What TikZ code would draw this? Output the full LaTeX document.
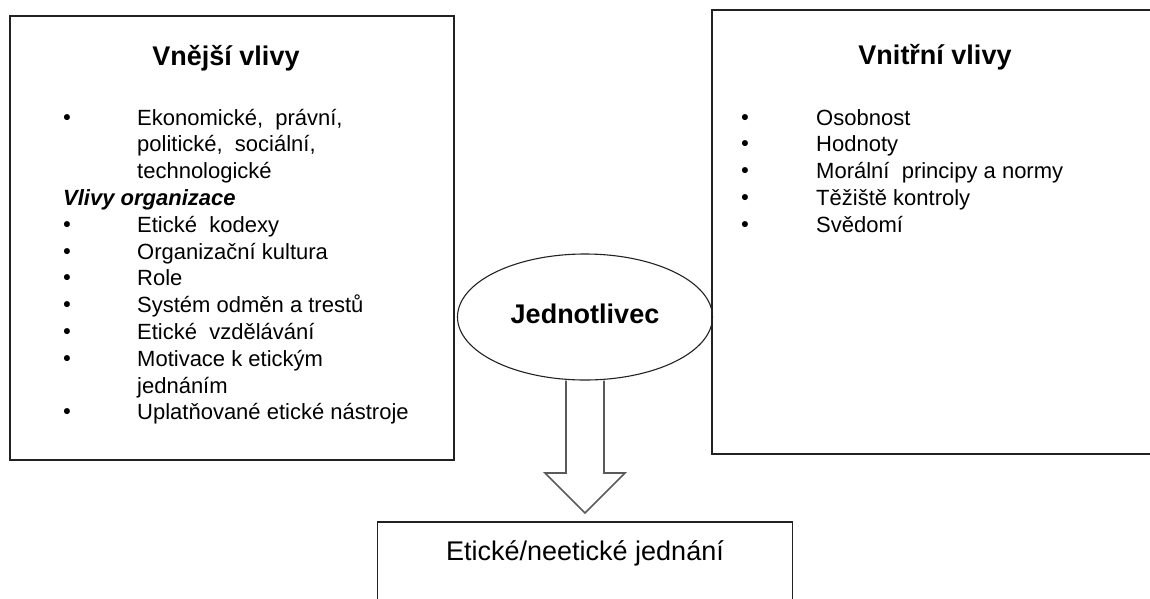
\documentclass[tikz,border=0pt]{standalone}
\usepackage{fontspec}
\setmainfont{Liberation Sans}
\usetikzlibrary{shapes.geometric, calc}
\definecolor{vlline}{HTML}{222222}
\definecolor{vlgray}{HTML}{5A5A5A}

\begin{document}
\begin{tikzpicture}[
  x=1pt, y=-1pt,
  every node/.style={font=\fontsize{22}{27}\selectfont, inner sep=0pt},
  frame/.style={rectangle, draw=vlline, line width=1.9pt},
  heading/.style={anchor=base, font=\fontsize{27}{32}\selectfont\bfseries},
  item/.style={anchor=base west},
  dot/.style={anchor=base, font=\fontsize{21}{24}\selectfont\bfseries},
  blockarr/.style={draw=vlgray, line width=1.6pt, line join=miter},
]

\useasboundingbox (0,0) rectangle (1150,598);
\clip (0,0) rectangle (1150,598);

% Boxes
\node[frame, minimum width=444pt, minimum height=444pt] (vnejsibox) at (232, 238) {};
\node[frame, minimum width=448pt, minimum height=444pt] (vnitrnibox) at (936, 232) {};

% Left box
\node[heading] (vnejsi) at (226, 65) {Vnější vlivy};
\node[item] (e1) at (137, 125) {Ekonomické,~ právní,};
\node[item] (e1b) at (137, 151.8) {politické,~ sociální,};
\node[item] (e1c) at (137, 178.6) {technologické};
\node[item, font=\fontsize{22}{27}\selectfont\bfseries\itshape] (org) at (63, 205.4) {Vlivy organizace};
\node[item] (e2) at (137, 232.2) {Etické~ kodexy};
\node[item] (e3) at (137, 259) {Organizační kultura};
\node[item] (e4) at (137, 285.8) {Role};
\node[item] (e5) at (137, 312.6) {Systém odměn a trestů};
\node[item] (e6) at (137, 339.4) {Etické~ vzdělávání};
\node[item] (e7) at (137, 366.2) {Motivace k etickým};
\node[item] (e7b) at (137, 393) {jednáním};
\node[item] (e8) at (137, 419.8) {Uplatňované etické nástroje};
\foreach \k in {0,4,5,6,7,8,9,11}
  \node[dot] (lb\k) at (67, {124+26.8*\k}) {•};

% Right box
\node[heading] (vnitrni) at (935, 64) {Vnitřní vlivy};
\node[item] (i1) at (816, 125) {Osobnost};
\node[item] (i2) at (816, 151.8) {Hodnoty};
\node[item] (i3) at (816, 178.6) {Morální~ principy a normy};
\node[item] (i4) at (816, 205.4) {Těžiště kontroly};
\node[item] (i5) at (816, 232.2) {Svědomí};
\foreach \k in {0,...,4}
  \node[dot] (rb\k) at (745, {124+26.8*\k}) {•};

% Individual and result
\node[ellipse, draw=vlline, line width=1.1pt, minimum width=255pt, minimum height=126pt,
  text height=14pt, font=\fontsize{27}{32}\selectfont\bfseries] (jed) at (585, 317) {Jednotlivec};
\node[frame, anchor=north, minimum width=415pt, text height=39pt, text depth=120pt,
  font=\fontsize{27}{32}\selectfont] (jednani) at (585, 521) {Etické/neetické jednání};

% Block arrow
\coordinate (tip) at ($(jednani.north)+(0,-8)$);
\draw[blockarr] ($(jed.south)+(-19,0)$) -- ($(tip)+(-19,-40)$) -- ($(tip)+(-40,-40)$) -- (tip)
  -- ($(tip)+(40,-40)$) -- ($(tip)+(19,-40)$) -- ($(jed.south)+(19,0)$);

\end{tikzpicture}
\end{document}
